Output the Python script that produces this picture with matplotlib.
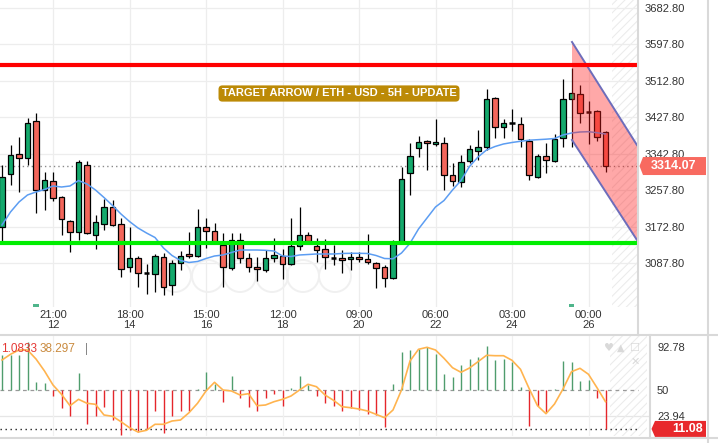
import matplotlib
matplotlib.use("Agg")
import matplotlib.pyplot as plt
from matplotlib.patches import Rectangle, Polygon, Ellipse
from matplotlib.lines import Line2D
import matplotlib.transforms as mtrans

# ---------------- data ----------------
opens = [3172.5, 3294.8, 3342.1, 3332.1, 3419.8, 3258.1, 3279.8, 3241.1, 3185.1, 3159.4,
         3315.8, 3152.4, 3178.8, 3217.8, 3178.1, 3077.8, 3098.8, 3063.8, 3062.1, 3101.1,
         3035.8, 3087.1, 3108.1, 3104.8, 3171.1, 3163.6, 3129.1, 3075.4, 3142.6, 3100.6,
         3077.8, 3070.3, 3098.8, 3103.7, 3084.3, 3127.5, 3152.4, 3128.2, 3119.8, 3100.2,
         3098.8, 3096.4, 3102.5, 3096.4, 3087.1, 3077.8, 3052.1, 3135.6, 3297.1, 3355.4,
         3371.8, 3365.5, 3367.1, 3292.0, 3276.1, 3325.3, 3349.8, 3357.8, 3472.1, 3404.4,
         3415.2, 3411.0, 3373.2, 3287.3, 3338.6, 3325.3, 3378.8, 3469.8, 3481.4, 3440.8,
         3442.5, 3393.5]
closes = [3289.2, 3339.8, 3332.1, 3413.8, 3258.1, 3281.5, 3238.8, 3189.8, 3159.4, 3322.8,
          3157.1, 3182.8, 3219.2, 3177.2, 3073.1, 3098.8, 3063.8, 3063.8, 3104.1, 3031.1,
          3087.1, 3104.8, 3103.0, 3171.1, 3163.6, 3137.5, 3077.3, 3141.5, 3098.8, 3079.6,
          3073.1, 3098.8, 3105.3, 3084.8, 3126.3, 3152.4, 3139.1, 3117.4, 3101.1, 3100.2,
          3094.1, 3101.1, 3096.4, 3089.4, 3075.4, 3052.1, 3131.0, 3283.1, 3336.8, 3369.7,
          3367.1, 3369.4, 3293.1, 3278.4, 3324.6, 3353.3, 3357.8, 3469.8, 3404.4, 3413.8,
          3415.2, 3376.4, 3292.0, 3338.6, 3327.0, 3378.3, 3469.8, 3485.2, 3437.1, 3440.8,
          3382.5, 3314.07]
highs = [3316.5, 3363.1, 3382.5, 3426.1, 3437.1, 3300.8, 3300.8, 3244.1, 3188.1, 3328.1,
         3325.8, 3199.8, 3236.4, 3234.8, 3192.8, 3172.5, 3104.1, 3085.5, 3108.8, 3111.1,
         3094.8, 3116.5, 3159.4, 3213.1, 3192.1, 3180.4, 3157.1, 3157.1, 3158.5, 3110.4,
         3101.1, 3118.1, 3145.4, 3119.8, 3192.1, 3217.8, 3159.4, 3145.4, 3143.1, 3129.8,
         3118.1, 3114.2, 3113.5, 3154.8, 3090.8, 3083.1, 3141.5, 3312.5, 3367.1, 3384.1,
         3374.8, 3423.1, 3381.1, 3320.4, 3339.8, 3363.1, 3398.1, 3493.1, 3476.3, 3423.8,
         3446.4, 3427.8, 3377.1, 3342.1, 3367.1, 3388.8, 3517.1, 3542.1, 3502.4, 3465.8,
         3444.8, 3395.8]
lows = [3137.5, 3269.8, 3254.2, 3316.5, 3205.2, 3211.5, 3232.5, 3153.1, 3114.2, 3141.5,
        3154.3, 3119.8, 3164.8, 3174.1, 3055.8, 3067.5, 3032.5, 3014.8, 3020.8, 3013.1,
        3013.1, 3070.3, 3098.8, 3101.1, 3122.1, 3134.5, 3032.5, 3071.5, 3087.1, 3066.1,
        3045.8, 3066.8, 3090.8, 3049.8, 3083.1, 3118.1, 3132.1, 3090.1, 3073.1, 3083.1,
        3063.8, 3071.5, 3090.1, 3085.5, 3028.8, 3031.1, 3050.5, 3132.1, 3246.5, 3334.4,
        3304.8, 3360.8, 3257.0, 3266.3, 3264.0, 3321.1, 3328.1, 3351.5, 3380.2, 3378.8,
        3396.5, 3359.6, 3282.6, 3286.1, 3298.5, 3323.5, 3359.2, 3359.2, 3413.8, 3365.5,
        3372.5, 3300.8]
moving_avg = [3176.5, 3206.8, 3230.1, 3246.5, 3253.5, 3259.3, 3267.5, 3265.1, 3267.5, 3280.3,
              3272.1, 3258.1, 3240.6, 3222.0, 3202.1, 3184.6, 3169.5, 3157.8, 3147.3, 3122.8,
              3105.3, 3093.6, 3089.0, 3091.3, 3098.3, 3104.1, 3106.5, 3112.3, 3118.1, 3118.1,
              3118.1, 3117.4, 3115.8, 3104.1, 3102.9, 3106.5, 3107.6, 3108.8, 3108.8, 3108.8,
              3110.0, 3110.4, 3110.4, 3110.0, 3105.3, 3098.3, 3097.6, 3111.1, 3133.8, 3167.1,
              3192.8, 3218.5, 3233.6, 3258.1, 3280.3, 3313.0, 3335.1, 3351.5, 3359.6, 3365.5,
              3369.0, 3371.8, 3374.3, 3375.5, 3376.7, 3378.3, 3386.5, 3391.1, 3393.5, 3394.2,
              3391.8, 3388.8]
osc_values = [85, 85, 85, 98.3, 58.3, 56.7, 44.3, 32.3, 24, 66.7,
              15.7, 24, 32.7, 20, 5, 10, 8.3, 11, 29, 6.7,
              24, 29.3, 29, 51, 68.3, 55.7, 38.3, 64, 42.3, 33.3,
              29.3, 41.7, 45.7, 34.3, 52.3, 64, 55, 44.3, 36.7, 34.3,
              29, 32.3, 30, 25.7, 25, 13.3, 55.7, 87.7, 90, 91,
              93.3, 85.7, 65.7, 63, 75, 81, 83.3, 94, 80, 81,
              78.3, 52.7, 14.3, 34.3, 28.3, 51, 79, 77.7, 59, 60,
              41.7, 11.08]
signal_values = [80, 85.7, 90, 90, 81, 69, 55, 45.7, 34.3, 40.7,
                 36.7, 35.7, 25, 23.7, 18.3, 12.3, 8, 9.7, 15.7, 15.7,
                 19, 20, 27.3, 36.7, 49, 57.7, 50, 49, 45, 46.3,
                 34.3, 35, 38.3, 40.7, 44, 50, 55.7, 53.3, 45, 39.7,
                 33.3, 32.3, 31, 29, 25.7, 22.3, 30, 50, 79, 90.7,
                 92.7, 90, 81.7, 72.3, 67.7, 72, 78.3, 84.7, 84.3, 84.3,
                 79.7, 70.7, 51.7, 34.3, 26.3, 36, 51, 68.3, 71.7, 65.7,
                 52.3, 38.3]
resistance = 3550.5
support = 3135.2
last_price = 3314.07
last_osc = 11.08
osc_mid = 50
price_ticks = [3682.80, 3597.80, 3512.80, 3427.80, 3342.80, 3257.80, 3172.80, 3087.80]
osc_ticks = [23.94, 50, 92.78]
time_tick_idx = [6, 15, 24, 33, 42, 51, 60, 69]
time_tick_labels = ["21:00\n12", "18:00\n14", "15:00\n16", "12:00\n18",
                    "09:00\n20", "06:00\n22", "03:00\n24", "00:00\n26"]
channel_x = [67.06, 74.7]
channel_upper = [3603.5, 3363.1]
channel_lower = [3374.8, 3141.5]
event_idx = [4, 67]
title_text = "TARGET ARROW / ETH - USD - 5H - UPDATE"
osc_legend = ["1.0833", "38.297", "|"]

# ---------------- layout ----------------
W, H, DPI = 718, 443, 100
plt.rcParams['font.family'] = ['Liberation Sans', 'DejaVu Sans']
plt.rcParams['hatch.linewidth'] = 0.8
fig = plt.figure(figsize=(W / DPI, H / DPI), dpi=DPI, facecolor='white')


def fx(px):
    return px / W


def fy(py):
    return 1 - py / H


STEP, X0 = 8.5, 2.0


def idx_at(px):
    return (px - X0) / STEP


ax = fig.add_axes([0, fy(307), fx(637), 307 / H])
ax2 = fig.add_axes([0, fy(436), fx(649), 100 / H])
for a in (ax, ax2):
    a.set_facecolor('none')
    for s in a.spines.values():
        s.set_visible(False)

ax.set_xlim(idx_at(0), idx_at(637))
ax.set_ylim(2985.1, 3701.5)
ax2.set_xlim(idx_at(0), idx_at(649))
ax2.set_ylim(4, 104)

GREEN = '#14a96c'
RED = '#f3665b'
bw = 0.68
n = len(opens)

# grid
ax.set_xticks(time_tick_idx)
ax.set_xticklabels(time_tick_labels)
ax.tick_params(axis='x', length=0, pad=2.5, labelsize=8, colors='#333333')
for lbl in ax.get_xticklabels():
    lbl.set_linespacing(0.95)
ax.yaxis.tick_right()
ax.set_yticks(price_ticks)
ax.set_yticklabels([f"{v:.2f}" for v in price_ticks])
ax.tick_params(axis='y', length=0, pad=5.8, labelsize=8, labelcolor='#333333')
ax.grid(True, color='#ededed', lw=0.9, zorder=0)
ax.set_axisbelow(True)

ax2.set_xticks(time_tick_idx)
ax2.set_xticklabels([])
ax2.tick_params(axis='x', length=0)
ax2.yaxis.tick_right()
ax2.set_yticks(osc_ticks)
ax2.set_yticklabels(["23.94", "50", "92.78"])
ax2.tick_params(axis='y', length=0, pad=5.8, labelsize=8, labelcolor='#333333')
ax2.grid(True, axis='x', color='#f0f0f0', lw=0.9, zorder=0)
ax2.set_axisbelow(True)
ax2.axhline(osc_ticks[0], color='#e6e6e6', lw=0.9, zorder=0)

# hatched "future" area
for a, p0, p1 in ((ax, 612, 637), (ax2, 610, 647)):
    y0, y1 = a.get_ylim()
    a.add_patch(Rectangle((idx_at(p0), y0), idx_at(p1) - idx_at(p0), y1 - y0,
                          fill=False, hatch='////', ec='#ececec', lw=0, zorder=0.5))

# faint UI circles
for cx in [175, 208, 240, 272, 303, 335]:
    ax.add_patch(Ellipse((fx(cx), fy(276)), 32 / W, 32 / H, transform=fig.transFigure,
                         fill=False, ec='#f0f0f0', lw=1.4, zorder=1))

# candles
for i, (o, h, l, c) in enumerate(zip(opens, highs, lows, closes)):
    ax.vlines(i, l, h, color='black', lw=0.9, zorder=3)
    if abs(c - o) < 0.5:
        ax.hlines(o, i - bw / 2, i + bw / 2, color='black', lw=1.8, zorder=4)
    else:
        col = GREEN if c > o else RED
        ax.add_patch(Rectangle((i - bw / 2, min(o, c)), bw, abs(c - o),
                               fc=col, ec='black', lw=0.9, zorder=4))

# moving average
ax.plot(range(n), moving_avg, color='#5c9df2', lw=1.1, zorder=4.5)

# dotted last price line
ax.axhline(last_price, color='#8a8a8a', lw=1.0, ls=(0, (1, 2.2)), zorder=2)

# channel
ax.add_patch(Polygon([(channel_x[0], channel_upper[0]), (channel_x[1], channel_upper[1]),
                      (channel_x[1], channel_lower[1]), (channel_x[0], channel_lower[0])],
                     closed=True, fc='#ff1a1a', alpha=0.38, ec='none', zorder=5))
ax.plot(channel_x, channel_upper, color='#6d6dbb', lw=1.4, zorder=6)
ax.plot(channel_x, channel_lower, color='#6d6dbb', lw=1.4, zorder=6)

# support / resistance
ax.axhline(resistance, color='#ff0000', lw=3.0, zorder=7)
ax.axhline(support, color='#00ee00', lw=3.0, zorder=7)

# event markers
bt = mtrans.blended_transform_factory(ax.transData, ax.transAxes)
for e in event_idx:
    ax.add_patch(Rectangle((e - 0.3, 0.0), 0.6, 0.009, transform=bt,
                           fc='#4fb58b', ec='none', zorder=3, clip_on=False))

# title label
ax.text(339 / 637, (307 - 93.5) / 307, title_text, transform=ax.transAxes,
        ha='center', va='center', color='white', fontsize=8, fontweight='bold',
        zorder=8, bbox=dict(boxstyle='round,pad=0.28,rounding_size=0.35',
                            fc='#bc8a06', ec='none'))

# oscillator
for i, v in enumerate(osc_values):
    ax2.vlines(i, osc_mid, v, color=('#4f9d6d' if v >= osc_mid else '#e5262b'),
               lw=1.0, zorder=3)
ax2.plot(range(n), signal_values, color='#ffb44f', lw=1.2, zorder=4)
ax2.hlines(osc_mid, idx_at(0), idx_at(638), colors='#999999', lw=0.9,
           linestyles=(0, (3, 3)), zorder=2)
ax2.hlines(last_osc, idx_at(0), idx_at(637), colors='#222222', lw=1.0,
           linestyles=(0, (1, 2.6)), zorder=2)

# oscillator legend text
fig.text(fx(1), fy(349), osc_legend[0], color='#e53935', fontsize=8.5, va='center', ha='left')
fig.text(fx(40), fy(349), osc_legend[1], color='#c98a3e', fontsize=8.5, va='center', ha='left')
fig.text(fx(85), fy(349), osc_legend[2], color='#888888', fontsize=8.5, va='center', ha='left')

# faint panel icons
for gx, gy, g, fs in [(609, 348, '\u2665', 8), (621, 348, '\u25b2', 7),
                      (634, 348, '\u2610', 8), (635, 362, '\u2715', 8)]:
    fig.text(fx(gx), fy(gy), g, color='#d9d9d9', fontsize=fs, ha='center', va='center',
             family='DejaVu Sans')

# separators
sep = '#d9d9d9'
fig.add_artist(Line2D([0, 1], [fy(334.5), fy(334.5)], transform=fig.transFigure, color=sep, lw=1.5))
fig.add_artist(Line2D([0, 1], [fy(437.5), fy(437.5)], transform=fig.transFigure, color=sep, lw=1.5))
fig.add_artist(Line2D([fx(637.5), fx(637.5)], [1, fy(334.5)], transform=fig.transFigure, color=sep, lw=1.5))
fig.add_artist(Line2D([fx(649.5), fx(649.5)], [fy(334.5), fy(437.5)], transform=fig.transFigure, color=sep, lw=1.5))
fig.add_artist(Line2D([fx(707.5), fx(707.5)], [1, 0], transform=fig.transFigure, color=sep, lw=1.5))

# last price label boxes
fig.canvas.draw()
yp = H - ax.transData.transform((0, last_price))[1]
fig.add_artist(Polygon([(fx(643), fy(yp - 9)), (fx(706), fy(yp - 9)), (fx(706), fy(yp + 9)),
                        (fx(643), fy(yp + 9)), (fx(639.5), fy(yp))],
                       closed=True, transform=fig.transFigure, fc='#f86a60', ec='none'))
fig.text(fx(674), fy(yp), f"{last_price:.2f}", color='white', fontsize=9, fontweight='bold',
         ha='center', va='center')

yo = H - ax2.transData.transform((0, last_osc))[1]
fig.add_artist(Polygon([(fx(655), fy(yo - 8)), (fx(706), fy(yo - 8)), (fx(706), fy(yo + 8)),
                        (fx(655), fy(yo + 8)), (fx(651.5), fy(yo))],
                       closed=True, transform=fig.transFigure, fc='#e8292c', ec='none'))
fig.text(fx(703), fy(yo), f"{last_osc:.2f}", color='white', fontsize=9, fontweight='bold',
         ha='right', va='center')

fig.savefig('out.png', dpi=DPI, facecolor='white')
